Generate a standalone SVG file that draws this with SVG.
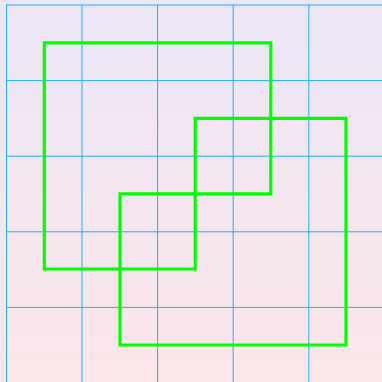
<svg xmlns="http://www.w3.org/2000/svg" width="382" height="382" viewBox="0 0 382 382">
<defs>
<linearGradient id="bg" x1="0" y1="0" x2="0" y2="1">
<stop offset="0" stop-color="#ece6f6"/>
<stop offset="1" stop-color="#fce6ea"/>
</linearGradient>
</defs>
<style>
.grid{stroke:#1eb2f2;stroke-width:1;fill:none}
.shape{stroke:#00ff00;stroke-width:3.2;fill:none;stroke-linejoin:miter}
</style>
<rect x="0" y="0" width="382" height="382" fill="url(#bg)"/>
<g id="grid" class="grid">
<path d="M6.5 4.5V382M82 4.5V382M157.6 4.5V382M233.2 4.5V382M308.8 4.5V382"/>
<path d="M6 5H382M6 80.6H382M6 156.2H382M6 231.8H382M6 307.4H382"/>
</g>
<g id="shape1">
<path class="shape" d="M44.3 42.8H270.8V193.8H195.2V269H44.3Z"/>
</g>
<g id="shape2">
<path class="shape" d="M195.2 118.4H346V345H120V193.8H195.2Z"/>
</g>
</svg>
